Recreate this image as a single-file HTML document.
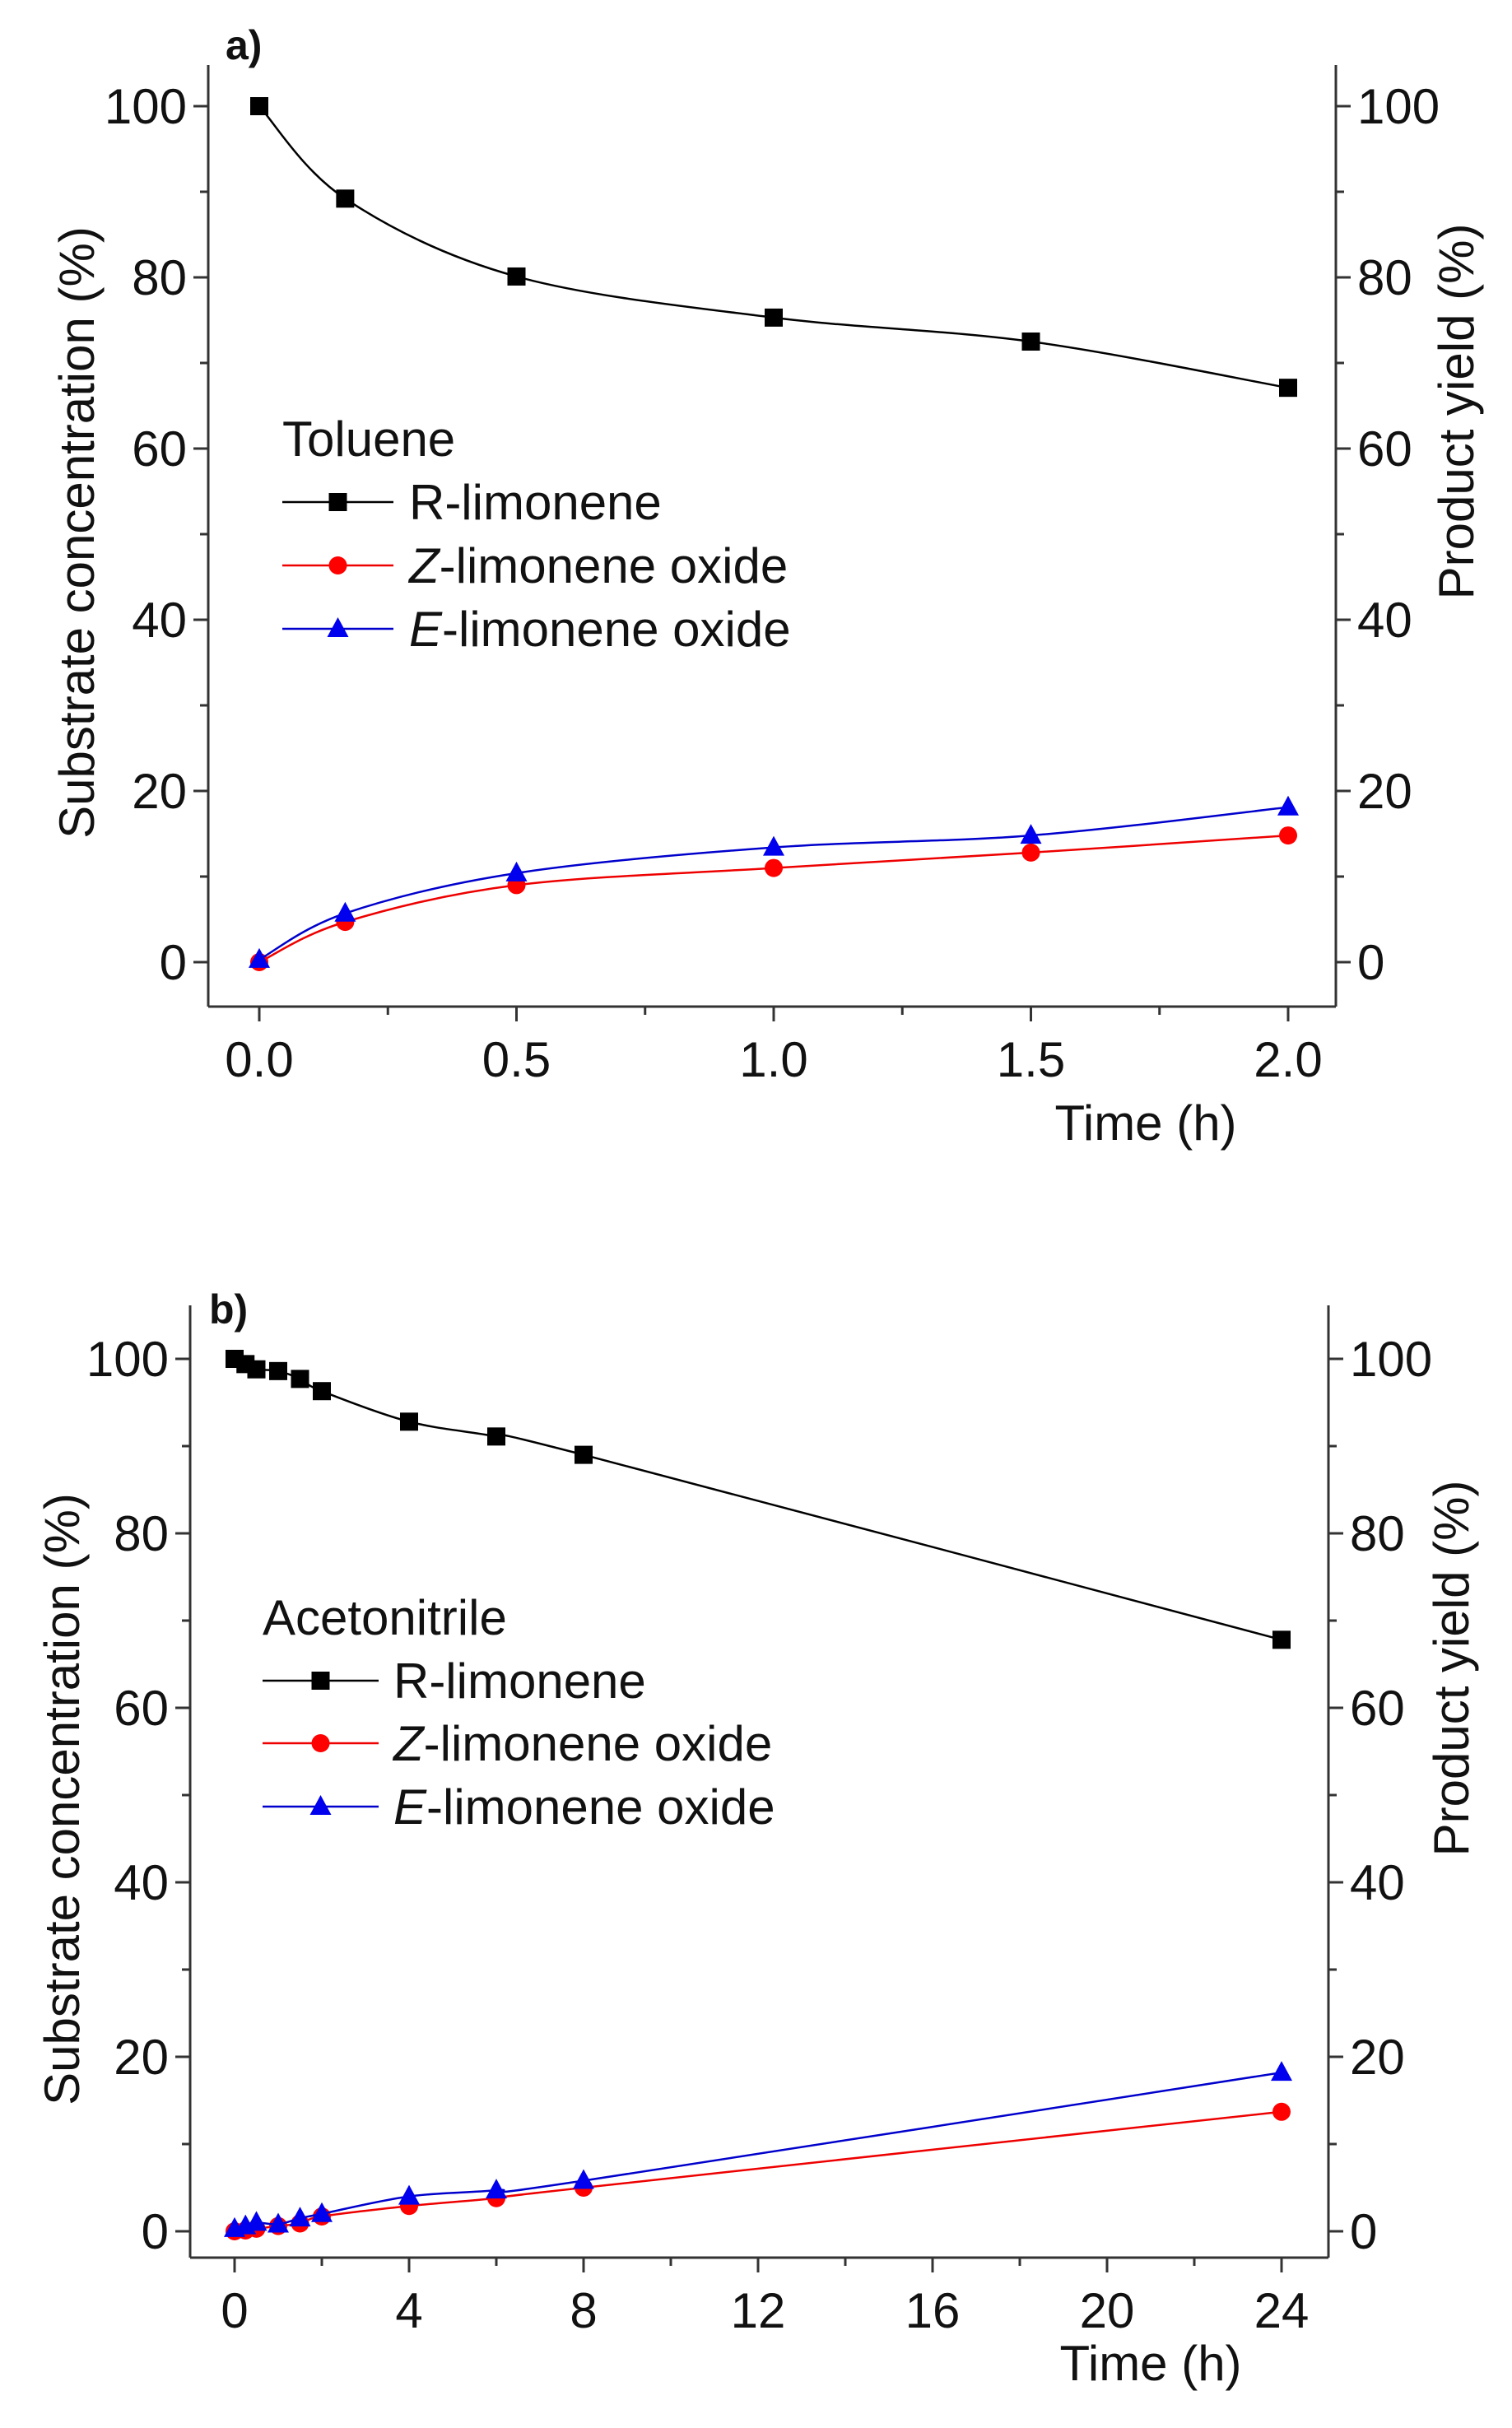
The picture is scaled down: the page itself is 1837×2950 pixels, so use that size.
<!DOCTYPE html>
<html><head><meta charset="utf-8"><style>
html,body{margin:0;padding:0;background:#fff}
svg{display:block}
text{font-family:"Liberation Sans",Arial,sans-serif;fill:#111}
</style></head><body>
<svg id="s" width="1837" height="2950" viewBox="0 0 1837 2950" xmlns="http://www.w3.org/2000/svg"></svg>
<script>
const S=document.getElementById('s');let h='';const FS=60;
function panel(o){
 const X=v=>o.x0+(v-o.xmin)/(o.xmax-o.xmin)*(o.x1-o.x0);
 const Y=v=>o.y0+(v)/100*(o.y100-o.y0);
 h+=`<line x1="${o.L}" y1="${o.T}" x2="${o.L}" y2="${o.B}" stroke="#333" stroke-width="3"/>`;
 h+=`<line x1="${o.R}" y1="${o.T}" x2="${o.R}" y2="${o.B}" stroke="#333" stroke-width="3"/>`;
 h+=`<line x1="${o.L}" y1="${o.B}" x2="${o.R}" y2="${o.B}" stroke="#333" stroke-width="3"/>`;
 for(let v=0;v<=100;v+=10){const y=Y(v),big=v%20==0,l=big?18:10;
  h+=`<line x1="${o.L-l}" y1="${y}" x2="${o.L}" y2="${y}" stroke="#333" stroke-width="3"/>`;
  h+=`<line x1="${o.R}" y1="${y}" x2="${o.R+l}" y2="${y}" stroke="#333" stroke-width="3"/>`;
  if(big){h+=`<text x="${o.L-26}" y="${y+21}" font-size="${FS}" text-anchor="end">${v}</text>`;
   h+=`<text x="${o.R+26}" y="${y+21}" font-size="${FS}">${v}</text>`;}}
 for(let v=o.xmin;v<=o.xmax+1e-9;v+=o.xminor){const x=X(v);const big=Math.abs(v/o.xmaj-Math.round(v/o.xmaj))<1e-6;
  h+=`<line x1="${x}" y1="${o.B}" x2="${x}" y2="${o.B+(big?18:10)}" stroke="#333" stroke-width="3"/>`;
  if(big)h+=`<text x="${x}" y="${o.B+85}" font-size="${FS}" text-anchor="middle">${o.fmt(v)}</text>`;}
 h+=`<text x="${o.timeX}" y="${o.timeY}" font-size="${FS}" text-anchor="middle">Time (h)</text>`;
 h+=`<text transform="translate(${o.lx},${o.ly}) rotate(-90)" font-size="${FS}" text-anchor="middle">Substrate concentration (%)</text>`;
 h+=`<text transform="translate(${o.rx},${o.ry}) rotate(-90)" font-size="${FS}" text-anchor="middle">Product yield (%)</text>`;
 h+=`<text x="${o.lab[0]}" y="${o.lab[1]}" font-size="50" font-weight="bold">${o.labt}</text>`;
 const cols=['#000','#e00','#00c'];
 o.series.forEach((d,i)=>{
  const P=d.map(p=>[X(p[0]),Y(p[1])]);
  let path=`M${P[0][0]},${P[0][1]}`;
  for(let k=0;k<P.length-1;k++){const p0=P[k-1]||P[k],p1=P[k],p2=P[k+1],p3=P[k+2]||P[k+1];
   const c1=[p1[0]+(p2[0]-p0[0])/6,p1[1]+(p2[1]-p0[1])/6],c2=[p2[0]-(p3[0]-p1[0])/6,p2[1]-(p3[1]-p1[1])/6];
   path+=` C${c1},${c2},${p2}`;}
  h+=`<path d="${path}" fill="none" stroke="${cols[i]}" stroke-width="2.5"/>`;
  P.forEach(p=>h+=mk(i,p[0],p[1]));
 });
 h+=`<text x="${o.leg.x}" y="${o.leg.t+21}" font-size="${FS}">${o.legt}</text>`;
 const names=['R-limonene','<tspan font-style="italic">Z</tspan>-limonene oxide','<tspan font-style="italic">E</tspan>-limonene oxide'];
 o.leg.rows.forEach((y,i)=>{h+=`<line x1="${o.leg.x}" y1="${y}" x2="${o.leg.x2}" y2="${y}" stroke="${cols[i]}" stroke-width="2.5"/>`;
  h+=mk(i,(o.leg.x+o.leg.x2)/2,y);
  h+=`<text x="${o.leg.tx}" y="${y+21}" font-size="${FS}">${names[i]}</text>`;});
}
function mk(i,x,y){
 if(i==0)return `<rect x="${x-11}" y="${y-11}" width="22" height="22" fill="#000"/>`;
 if(i==1)return `<circle cx="${x}" cy="${y}" r="11" fill="#f00"/>`;
 return `<polygon points="${x},${y-14} ${x-13},${y+10} ${x+13},${y+10}" fill="#00e"/>`;
}
panel({L:253,R:1623,T:79,B:1223,x0:315,x1:1565,xmin:0,xmax:2,xminor:0.25,xmaj:0.5,fmt:v=>v.toFixed(1),
 y0:1169,y100:129,timeX:1392,timeY:1385,lx:114,ly:647,rx:1790,ry:500,lab:[274,72],labt:'a)',
 legt:'Toluene',leg:{x:343,x2:478,t:533,tx:497,rows:[610,687,764]},
 series:[[[0,100],[0.167,89.2],[0.5,80.1],[1,75.3],[1.5,72.5],[2,67.1]],
  [[0,0],[0.167,4.7],[0.5,9],[1,11],[1.5,12.8],[2,14.8]],
  [[0,0.3],[0.167,5.7],[0.5,10.4],[1,13.4],[1.5,14.8],[2,18.1]]]});
panel({L:231,R:1614,T:1586,B:2743,x0:285,x1:1557,xmin:0,xmax:24,xminor:2,xmaj:4,fmt:v=>String(Math.round(v)),
 y0:2711,y100:1651,timeX:1398,timeY:2892,lx:96,ly:2186,rx:1784,ry:2027,lab:[254,1608],labt:'b)',
 legt:'Acetonitrile',leg:{x:319,x2:460,t:1965,tx:478,rows:[2042,2118,2195]},
 series:[[[0,100],[0.25,99.4],[0.5,98.8],[1,98.6],[1.5,97.7],[2,96.3],[4,92.8],[6,91.1],[8,89],[24,67.8]],
  [[0,0],[0.25,0.1],[0.5,0.3],[1,0.6],[1.5,0.9],[2,1.7],[4,2.9],[6,3.8],[8,5],[24,13.7]],
  [[0,0.3],[0.25,0.6],[0.5,1],[1,0.8],[1.5,1.5],[2,2],[4,4],[6,4.7],[8,5.8],[24,18.2]]]});
S.innerHTML=h;
</script>
</body></html>
